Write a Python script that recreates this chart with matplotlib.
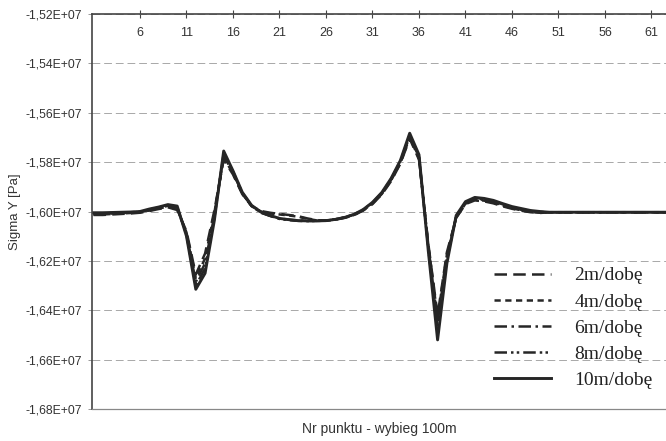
import numpy as np
import matplotlib
matplotlib.use("Agg")
import matplotlib.pyplot as plt
from matplotlib.ticker import FuncFormatter, FixedLocator

# ---------------- data (values in 1e7 Pa) ----------------
SCALE = 1e7
points = list(range(1, 66))

flat_tail = [-1.6003] * 16  # points 50..65

s10 = [-1.6005, -1.6005, -1.6004, -1.6003, -1.6002, -1.6000, -1.5990, -1.5982, -1.5972, -1.5978,
       -1.6100, -1.6315, -1.6250, -1.6035, -1.5755, -1.5835, -1.5922, -1.5975, -1.6002, -1.6016,
       -1.6028, -1.6033, -1.6037, -1.6038, -1.6038, -1.6037, -1.6032, -1.6024, -1.6012, -1.5992,
       -1.5963, -1.5923, -1.5866, -1.5793, -1.5683, -1.5770, -1.6160, -1.6520, -1.6210, -1.6016,
       -1.5960, -1.5943, -1.5947, -1.5955, -1.5968, -1.5980, -1.5988, -1.5996, -1.6000] + flat_tail

s8 = [-1.6008, -1.6008, -1.6006, -1.6005, -1.6003, -1.6001, -1.5992, -1.5984, -1.5975, -1.5982,
      -1.6095, -1.6300, -1.6230, -1.6025, -1.5765, -1.5838, -1.5924, -1.5977, -1.6004, -1.6018,
      -1.6030, -1.6035, -1.6038, -1.6039, -1.6038, -1.6037, -1.6032, -1.6024, -1.6012, -1.5993,
      -1.5964, -1.5925, -1.5868, -1.5797, -1.5690, -1.5775, -1.6150, -1.6470, -1.6195, -1.6020,
      -1.5963, -1.5946, -1.5950, -1.5958, -1.5971, -1.5983, -1.5991, -1.5998, -1.6002] + flat_tail

s6 = [-1.6010, -1.6010, -1.6008, -1.6006, -1.6004, -1.6002, -1.5994, -1.5986, -1.5977, -1.5986,
      -1.6090, -1.6285, -1.6210, -1.6015, -1.5775, -1.5842, -1.5926, -1.5978, -1.6005, -1.6018,
      -1.6028, -1.6033, -1.6036, -1.6038, -1.6038, -1.6037, -1.6032, -1.6024, -1.6013, -1.5994,
      -1.5966, -1.5927, -1.5871, -1.5800, -1.5695, -1.5780, -1.6140, -1.6445, -1.6185, -1.6022,
      -1.5966, -1.5949, -1.5953, -1.5961, -1.5974, -1.5985, -1.5993, -1.6000, -1.6004] + flat_tail

s4 = [-1.6012, -1.6012, -1.6010, -1.6008, -1.6006, -1.6003, -1.5996, -1.5988, -1.5980, -1.5990,
      -1.6085, -1.6270, -1.6190, -1.6005, -1.5782, -1.5846, -1.5928, -1.5978, -1.6000, -1.6008,
      -1.6012, -1.6016, -1.6021, -1.6030, -1.6036, -1.6037, -1.6032, -1.6025, -1.6014, -1.5995,
      -1.5968, -1.5929, -1.5874, -1.5803, -1.5700, -1.5785, -1.6135, -1.6430, -1.6175, -1.6024,
      -1.5968, -1.5952, -1.5956, -1.5964, -1.5976, -1.5987, -1.5995, -1.6002, -1.6005] + flat_tail

s2 = [-1.6014, -1.6014, -1.6012, -1.6010, -1.6008, -1.6005, -1.5998, -1.5990, -1.5983, -1.5994,
      -1.6080, -1.6255, -1.6170, -1.5995, -1.5790, -1.5850, -1.5930, -1.5978, -1.5998, -1.6005,
      -1.6010, -1.6014, -1.6019, -1.6028, -1.6035, -1.6037, -1.6033, -1.6026, -1.6015, -1.5996,
      -1.5970, -1.5931, -1.5877, -1.5806, -1.5705, -1.5790, -1.6130, -1.6420, -1.6165, -1.6026,
      -1.5970, -1.5955, -1.5959, -1.5967, -1.5979, -1.5989, -1.5997, -1.6003, -1.6006] + flat_tail

series_labels = ["2m/dobę", "4m/dobę", "6m/dobę", "8m/dobę", "10m/dobę"]
series_values = [s2, s4, s6, s8, s10]

y_ticks = [-1.52, -1.54, -1.56, -1.58, -1.60, -1.62, -1.64, -1.66, -1.68]
x_ticks = [6, 11, 16, 21, 26, 31, 36, 41, 46, 51, 56, 61]

x_label = "Nr punktu - wybieg 100m"
y_label = "Sigma Y [Pa]"

# ---------------- styling ----------------
line_color = "#262626"
styles = [
    dict(linestyle=(0, (5, 2.5)), linewidth=1.8),
    dict(linestyle=(0, (2.5, 1.8)), linewidth=1.8),
    dict(linestyle=(0, (5, 1.8, 1.0, 1.8)), linewidth=1.8),
    dict(linestyle=(0, (5, 1.6, 1.0, 1.3, 1.0, 1.6)), linewidth=1.8),
    dict(linestyle="-", linewidth=2.1),
]

plt.rcParams["font.family"] = ["Liberation Sans", "DejaVu Sans"]

fig = plt.figure(figsize=(6.66, 4.41), dpi=100)
ax = fig.add_axes([92 / 666, 1 - 409 / 441, 1 - 92 / 666, (409 - 14) / 441])

for vals, lab, st in zip(series_values, series_labels, styles):
    ax.plot(points, np.array(vals) * SCALE, color=line_color, label=lab,
            solid_joinstyle="round", dash_joinstyle="round", **st)

ax.set_xlim(0.84, 62.56)
ax.set_ylim(y_ticks[-1] * SCALE, y_ticks[0] * SCALE)

ax.yaxis.set_major_locator(FixedLocator([v * SCALE for v in y_ticks]))
ax.yaxis.set_major_formatter(FuncFormatter(lambda v, p: f"{v:.2E}".replace(".", ",")))
ax.xaxis.set_major_locator(FixedLocator(x_ticks))

ax.yaxis.grid(True, color="#a8a8a8", linestyle=(0, (8, 4)), linewidth=0.7)
ax.set_axisbelow(True)

ax.tick_params(axis="x", top=True, labeltop=True, bottom=False, labelbottom=False,
               direction="inout", length=6, width=0.8, color="#444444",
               pad=-21, labelsize=9, labelcolor="#333333")
ax.tick_params(axis="y", direction="out", length=3, width=0.6, color="#888888",
               labelsize=8.8, labelcolor="#333333", pad=4)

ax.spines["right"].set_visible(False)
ax.spines["left"].set_color("#444444")
ax.spines["left"].set_linewidth(1.2)
ax.spines["top"].set_color("#444444")
ax.spines["top"].set_linewidth(1.2)
ax.spines["bottom"].set_color("#888888")
ax.spines["bottom"].set_linewidth(0.9)

ax.set_xlabel(x_label, fontsize=10, color="#333333", labelpad=9)
ax.set_ylabel(y_label, fontsize=9.5, color="#333333", labelpad=3)

leg = ax.legend(loc="center right", bbox_to_anchor=(1.0, 0.205), frameon=False,
                prop={"family": ["Liberation Serif", "DejaVu Serif"], "size": 14},
                handlelength=2.9, handletextpad=1.2, labelspacing=0.44,
                borderaxespad=0.3)
for t in leg.get_texts():
    t.set_color("#222222")

fig.savefig("out.png", dpi=100, facecolor="white")
